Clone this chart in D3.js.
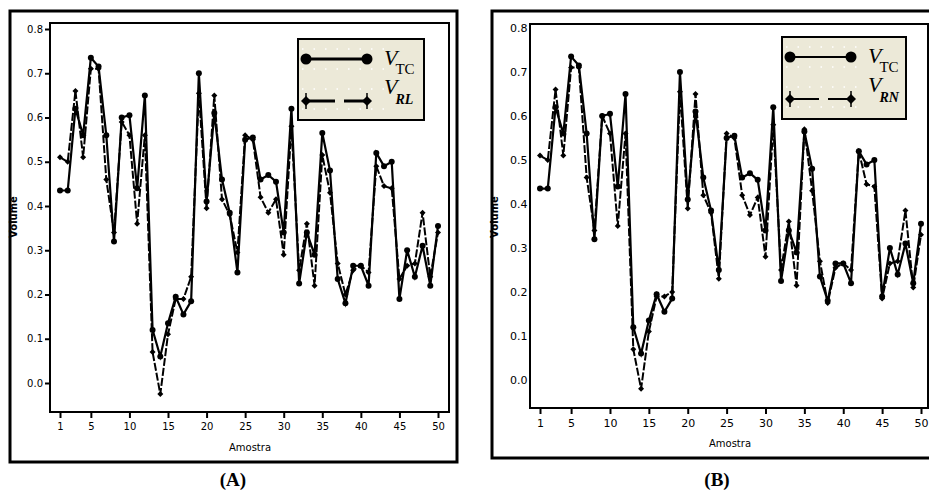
<!DOCTYPE html>
<html lang="pt">
<head>
<meta charset="utf-8">
<style type="text/css">
	body { margin: 0; background: #fff; }
	svg { display: block; }
	.tick text { font-family: "DejaVu Sans", sans-serif; }
</style>
</head>
<body>
<script src="https://cdn.jsdelivr.net/npm/d3@7"></script>
<script type="text/javascript">
// amostras 1..50
var amostras = [1,2,3,4,5,6,7,8,9,10,11,12,13,14,15,16,17,18,19,20,
	21,22,23,24,25,26,27,28,29,30,31,32,33,34,35,36,37,38,39,40,
	41,42,43,44,45,46,47,48,49,50];
var xTicks = [1,5,10,15,20,25,30,35,40,45,50];
var yTicks = [0.0,0.1,0.2,0.3,0.4,0.5,0.6,0.7,0.8];

// volume observado (V_TC)
var vTC = [0.435,0.435,0.62,0.56,0.735,0.715,0.56,0.32,0.60,0.605,
	0.44,0.65,0.12,0.06,0.135,0.195,0.155,0.185,0.70,0.41,
	0.61,0.46,0.385,0.25,0.55,0.555,0.46,0.47,0.455,0.34,
	0.62,0.225,0.34,0.29,0.565,0.48,0.235,0.18,0.265,0.265,
	0.22,0.52,0.49,0.50,0.19,0.30,0.24,0.31,0.22,0.355];
// regressão linear (V_RL) - painel A
var vRL = [0.51,0.50,0.66,0.51,0.71,0.71,0.46,0.34,0.59,0.56,
	0.36,0.56,0.07,-0.025,0.11,0.19,0.19,0.24,0.655,0.395,
	0.65,0.415,0.38,0.295,0.56,0.55,0.42,0.385,0.415,0.29,
	0.58,0.255,0.36,0.22,0.515,0.43,0.27,0.20,0.255,0.265,
	0.25,0.49,0.445,0.44,0.235,0.265,0.27,0.385,0.24,0.34];
// rede neural (V_RN) - painel B
var vRN = [0.51,0.50,0.66,0.51,0.71,0.71,0.46,0.34,0.60,0.56,
	0.35,0.56,0.07,-0.02,0.11,0.19,0.19,0.20,0.655,0.39,
	0.65,0.42,0.38,0.23,0.56,0.55,0.42,0.375,0.415,0.28,
	0.58,0.25,0.36,0.215,0.57,0.43,0.27,0.175,0.255,0.265,
	0.25,0.52,0.445,0.44,0.185,0.265,0.27,0.385,0.21,0.33];

var svg = d3.select("body")
	.append("svg")
	.attr("width", 929)
	.attr("height", 491);

var panels = [
	{
		frame: {x: 10, y: 11, w: 447, h: 451},
		plot: {l: 50, t: 23, r: 449, b: 412},
		xr: [60, 438], yr: [383, 29],
		legend: {x: 298, y: 39, w: 126, h: 81, sub2: "RL", lw: 3},
		other: vRL, tickLen: 5, tickFont: 10,
		xlab: {x: 250, y: 451}, ylab: {x: 17, y: 217},
		cap: {text: "A", x: 233, y: 486}
	},
	{
		frame: {x: 492, y: 11, w: 460, h: 447},
		plot: {l: 530, t: 24, r: 928, b: 408},
		xr: [540, 921], yr: [380, 28],
		legend: {x: 782, y: 37, w: 124, h: 82, sub2: "RN", lw: 2},
		other: vRN, tickLen: 0, tickFont: 11,
		xlab: {x: 730, y: 447}, ylab: {x: 498, y: 217},
		cap: {text: "B", x: 717, y: 486}
	}
];

panels.forEach(drawPanel);

function drawPanel(p) {
	var g = svg.append("g");
	var x = d3.scaleLinear().domain([1, 50]).range(p.xr);
	var y = d3.scaleLinear().domain([0, 0.8]).range(p.yr);

	// moldura externa
	g.append("rect")
		.attr("x", p.frame.x).attr("y", p.frame.y)
		.attr("width", p.frame.w).attr("height", p.frame.h)
		.attr("fill", "none").attr("stroke", "#000").attr("stroke-width", 3);

	// area do grafico
	g.append("rect")
		.attr("x", p.plot.l).attr("y", p.plot.t)
		.attr("width", p.plot.r - p.plot.l).attr("height", p.plot.b - p.plot.t)
		.attr("fill", "none").attr("stroke", "#000").attr("stroke-width", 2);

	var yAxis = g.append("g")
		.attr("transform", "translate(" + p.plot.l + ",0)")
		.call(d3.axisLeft(y).tickValues(yTicks).tickFormat(d3.format(".1f"))
			.tickSize(p.tickLen).tickPadding(p.tickLen ? 2 : 0));
	yAxis.select(".domain").remove();
	yAxis.selectAll("line").attr("stroke-width", 2);
	yAxis.selectAll("text").style("font-size", p.tickFont + "px");
	if (!p.tickLen) yAxis.selectAll("text").attr("text-anchor", "start").attr("x", -20);

	var xAxis = g.append("g")
		.attr("transform", "translate(0," + p.plot.b + ")")
		.call(d3.axisBottom(x).tickValues(xTicks).tickSize(6).tickPadding(5));
	xAxis.select(".domain").remove();
	xAxis.selectAll("line").attr("stroke-width", 2);
	xAxis.selectAll("text").style("font-size", p.tickFont + "px");

	g.append("text")
		.attr("x", p.xlab.x).attr("y", p.xlab.y)
		.attr("text-anchor", "middle")
		.style("font-family", "DejaVu Sans").style("font-size", "10px")
		.text("Amostra");
	g.append("text")
		.attr("transform", "translate(" + p.ylab.x + "," + p.ylab.y + ") rotate(-90)")
		.attr("text-anchor", "middle")
		.style("font-family", "DejaVu Sans").style("font-size", "10px").style("font-weight", "bold")
		.text("Volume");

	var line = d3.line().x(function (d, i) { return x(amostras[i]); }).y(function (d) { return y(d); });

	// serie prevista (tracejada)
	g.append("path")
		.datum(p.other)
		.attr("d", line)
		.attr("fill", "none").attr("stroke", "#000")
		.attr("stroke-width", 2).attr("stroke-dasharray", "8,2");
	g.selectAll(".dia")
		.data(p.other).enter()
		.append("path")
		.attr("class", "dia")
		.attr("transform", function (d, i) { return "translate(" + x(amostras[i]) + "," + y(d) + ") rotate(45)"; })
		.attr("d", d3.symbol().type(d3.symbolSquare).size(18))
		.attr("fill", "#000");

	// serie observada
	g.append("path")
		.datum(vTC)
		.attr("d", line)
		.attr("fill", "none").attr("stroke", "#000").attr("stroke-width", 2.2);
	g.selectAll(".dot")
		.data(vTC).enter()
		.append("circle")
		.attr("class", "dot")
		.attr("cx", function (d, i) { return x(amostras[i]); })
		.attr("cy", function (d) { return y(d); })
		.attr("r", 3)
		.attr("fill", "#000");

	// legenda
	var L = p.legend;
	var lg = g.append("g").attr("transform", "translate(" + L.x + "," + L.y + ")");
	lg.append("rect")
		.attr("width", L.w).attr("height", L.h)
		.attr("fill", "#ECE9D8").attr("stroke", "#000").attr("stroke-width", 2);
	[10, 30, 50, 70].forEach(function (yy) {
		lg.append("line")
			.attr("x1", 4).attr("x2", L.w - 40).attr("y1", yy).attr("y2", yy)
			.attr("stroke", "#fff").attr("stroke-width", 1.5).attr("stroke-dasharray", "1.5,10");
	});
	var r1 = 20, r2 = 62, x1 = 8, x2 = 69;
	lg.append("line").attr("x1", x1).attr("x2", x2).attr("y1", r1).attr("y2", r1)
		.attr("stroke", "#000").attr("stroke-width", L.lw);
	[x1, x2].forEach(function (xx) {
		lg.append("circle").attr("cx", xx).attr("cy", r1).attr("r", 5.5).attr("fill", "#000");
	});
	lg.append("line").attr("x1", x1).attr("x2", 37).attr("y1", r2).attr("y2", r2)
		.attr("stroke", "#000").attr("stroke-width", L.lw);
	lg.append("line").attr("x1", 46).attr("x2", x2).attr("y1", r2).attr("y2", r2)
		.attr("stroke", "#000").attr("stroke-width", L.lw);
	[x1, x2].forEach(function (xx) {
		lg.append("path")
			.attr("transform", "translate(" + xx + "," + r2 + ") rotate(45)")
			.attr("d", d3.symbol().type(d3.symbolSquare).size(50))
			.attr("fill", "#000");
		lg.append("line").attr("x1", xx).attr("x2", xx).attr("y1", r2 - 8).attr("y2", r2 + 8)
			.attr("stroke", "#000").attr("stroke-width", 1.5);
	});
	var t1 = lg.append("text").attr("x", 86).attr("y", 26)
		.style("font-family", "Liberation Serif").style("font-size", "22px");
	t1.append("tspan").style("font-style", "italic").text("V");
	t1.append("tspan").attr("dy", 9).attr("dx", -2).style("font-size", "15px").text("TC");
	var t2 = lg.append("text").attr("x", 86).attr("y", 55)
		.style("font-family", "Liberation Serif").style("font-size", "22px");
	t2.append("tspan").style("font-style", "italic").text("V");
	t2.append("tspan").attr("dy", 10).attr("dx", -2).style("font-size", "14px")
		.style("font-style", "italic").style("font-weight", "bold").text(L.sub2);

	// legenda do painel
	var cap = g.append("text")
		.attr("x", p.cap.x).attr("y", p.cap.y)
		.attr("text-anchor", "middle")
		.style("font-family", "Liberation Serif").style("font-size", "19px").style("font-weight", "bold");
	cap.text("(" + p.cap.text + ")");
}
</script>
</body>
</html>
